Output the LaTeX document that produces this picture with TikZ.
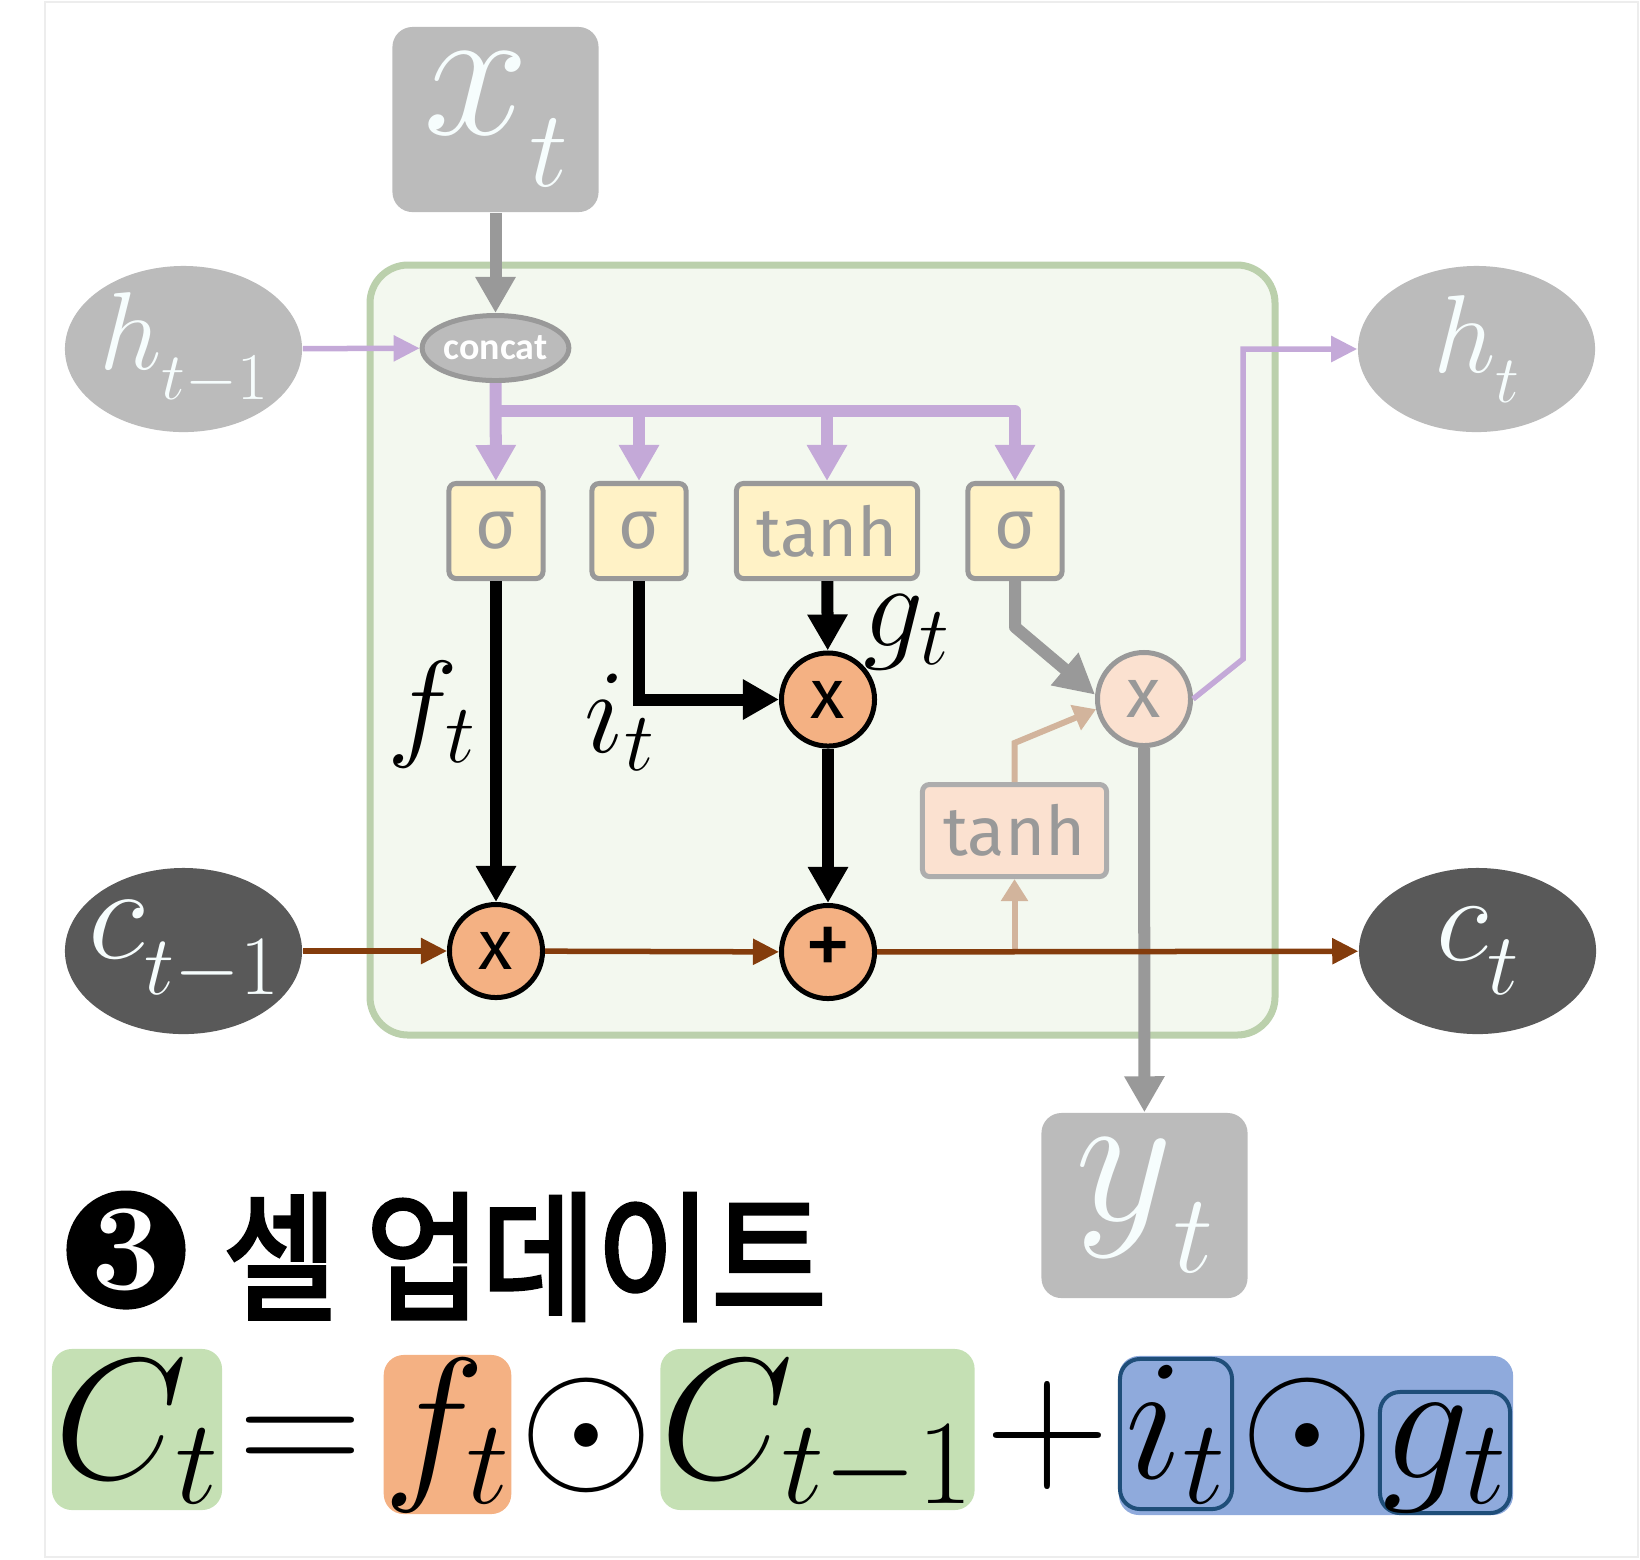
\RequirePackage{fix-cm}
\documentclass[tikz,border=0pt]{standalone}
\usepackage{fontspec}
\usepackage{tikz}
\usetikzlibrary{arrows.meta,shapes.geometric}
\newfontfamily\gatefont{Fira Sans}
\newfontfamily\catfont{Carlito}
\newfontfamily\krfont{Noto Sans CJK KR}[FakeStretch=0.89,FakeBold=2.5]
\definecolor{nodegray}{RGB}{187,187,187}
\definecolor{linegray}{RGB}{153,153,153}
\definecolor{cellgray}{RGB}{89,89,89}
\definecolor{lilac}{RGB}{196,169,216}
\definecolor{rust}{RGB}{132,60,12}
\definecolor{sand}{RGB}{210,180,156}
\definecolor{cellfill}{RGB}{243,248,239}
\definecolor{celledge}{RGB}{187,208,172}
\definecolor{gateyellow}{RGB}{255,242,198}
\definecolor{multorange}{RGB}{244,177,131}
\definecolor{peach}{RGB}{251,225,208}
\definecolor{eqgreen}{RGB}{197,224,180}
\definecolor{eqblue}{RGB}{143,170,220}
\definecolor{eqnavy}{RGB}{31,78,121}
\definecolor{snow}{RGB}{246,253,253}
% symbol with a deep, smaller subscript
\newcommand{\dropsub}[3]{\makebox[0pt]{$#1\lower0.27em\hbox{\fontsize{#3}{#3}\selectfont$#2$}$}}
\tikzset{
  gate/.style={draw=linegray,fill=#1,line width=0.05cm,rounded corners=2pt,
    minimum width=0.94cm,minimum height=0.95cm,inner sep=0pt,text=linegray,
    font=\gatefont\fontsize{19.5}{20}\selectfont},
  gate/.default=gateyellow,
  mult/.style={circle,draw=black,fill=#1,line width=0.05cm,minimum size=0.93cm,
    inner sep=0pt,font=\gatefont\fontsize{20}{20}\selectfont},
  mult/.default=multorange,
  io/.style={rectangle,fill=nodegray,rounded corners=0.2cm,minimum width=2.06cm,
    minimum height=1.85cm,inner sep=0pt,text=snow,font=\fontsize{54}{54}\selectfont},
  blob/.style={ellipse,fill=#1,minimum width=2.37cm,minimum height=1.66cm,
    inner sep=0pt,text=snow},
  blob/.default=nodegray,
  wire/.style={draw=#1,line width=0.12cm,-{Triangle[length=0.36cm,width=0.38cm]}},
  wire/.default=black,
  thin wire/.style={draw=#1,line width=0.055cm,-{Triangle[length=0.26cm,width=0.25cm]}},
  sym/.style={inner sep=0pt,font=\fontsize{34}{34}\selectfont},
  eq/.style={font=\fontsize{49}{49}\selectfont,anchor=base,inner sep=0pt},
  eqbox/.style={eq,fill=#1,rounded corners=0.2cm},
}
\begin{document}
\begin{tikzpicture}[x=0.01cm,y=-0.01cm]
  \useasboundingbox (0,0) rectangle (1640,1559);
  \draw[black!7,line width=0.015cm] (45,2) rectangle (1638,1557);
  % the cell
  \draw[celledge,fill=cellfill,line width=0.07cm,rounded corners=0.38cm] (370,265) rectangle (1275,1035);

  % inputs and outputs
  \node[io] (xt) at (495.5,119.5) {\dropsub{x}{t}{31}};
  \node[io] (yt) at (1144.5,1205.5) {\dropsub{y}{t}{32}};
  \node[blob,font=\fontsize{31.5}{32}\selectfont] (htm) at (183.5,349) {\dropsub{h}{t{-}1}{19}};
  \node[blob,font=\fontsize{31.5}{32}\selectfont] (ht) at (1476.5,349) {\dropsub{h}{t}{19}};
  \node[blob=cellgray,font=\fontsize{38}{38}\selectfont] (ctm) at (183.5,951) {\dropsub{c}{t{-}1}{24}};
  \node[blob=cellgray,font=\fontsize{35}{35}\selectfont] (ct) at (1477.5,951) {\dropsub{c}{t}{25}};
  \node[ellipse,draw=linegray,fill=nodegray,line width=0.05cm,minimum width=1.28cm,
    minimum height=0.65cm,inner sep=0pt,text=white,
    font=\catfont\bfseries\fontsize{10.8}{11}\selectfont] (concat) at (495.5,348) {concat};

  % gates
  \node[gate] (sf) at (496,531) {σ};
  \node[gate] (si) at (639,531) {σ};
  \node[gate,minimum width=1.81cm] (tg) at (827,531) {tanh};
  \node[gate] (so) at (1015,531) {σ};
  \node[gate=peach,draw=linegray!80,minimum width=1.84cm,minimum height=0.92cm] (tc) at (1014.5,830.5) {tanh};

  % pointwise ops
  \node[mult] (fx) at (496,951) {x};
  \node[mult] (ix) at (828,699.5) {x};
  \node[mult,font=\gatefont\fontsize{27}{27}\selectfont] (add) at (828,952) {+};
  \node[mult=peach,draw=linegray,text=linegray] (ox) at (1144,699) {x};

  \node[sym] (flab) at (432,715) {$f_t$};
  \node[sym] (ilab) at (620,722) {$i_t$};
  \node[sym] (glab) at (907,632) {$g_t$};

  % wires
  \draw[wire=linegray] (xt) -- (concat);
  \draw[thin wire=lilac] (htm) -- (concat);
  \coordinate (split) at (495.5,411);
  \draw[wire=lilac] (concat) -- (sf);
  \draw[wire=lilac,line join=round] (split) -| (so);
  \foreach \g in {si,tg} \draw[wire=lilac] (split -| \g) -- (\g);

  \draw[wire] (sf) -- (fx);
  \draw[wire] (si) |- (ix);
  \draw[wire] (tg) -- (ix);
  \draw[wire] (ix) -- (add);
  \draw[wire=linegray,-{Triangle[length=0.4cm,width=0.4cm]},line join=round] (so.south) -- ++(0,46) -- (ox.175);
  \draw[wire=linegray] (ox) -- (yt);
  \draw[sand,line width=0.06cm,-{Triangle[length=0.22cm,width=0.26cm]}] (add -| tc) -- (tc);
  \draw[sand,line width=0.06cm,-{Triangle[length=0.22cm,width=0.26cm]}] (tc.north) -- ++(0,-39) -- (ox.192);
  \draw[thin wire=lilac] (ox.east) -- ++(50,-40) |- (ht);

  % cell state
  \draw[thin wire=rust] (ctm) -- (fx);
  \draw[thin wire=rust] (fx) -- (add);
  \draw[thin wire=rust] (add) -- (ct);

  % title
  \node[circle,fill=black,minimum size=1.19cm,inner sep=0pt,text=white,
    font=\bfseries\fontsize{35}{35}\selectfont] (num) at (126,1250) {3};
  \node[anchor=west,inner sep=0pt,font=\krfont\fontsize{40}{40}\selectfont] (title) at (222,1257) {셀 업데이트};

  % equation
  \node[eqbox=eqgreen,minimum width=1.70cm,text height=1.29cm,text depth=0.32cm] (Ct) at (137,1478) {$C_t$};
  \node[eq] (eqs) at (301,1478) {$=$};
  \node[eqbox=multorange,minimum width=1.21cm,text height=1.23cm,text depth=0.36cm] (ft) at (447.5,1478) {$f_t$};
  \node[eq] (od1) at (587,1478) {$\odot$};
  \node[eqbox=eqgreen,minimum width=3.01cm,text height=1.29cm,text depth=0.32cm] (Ctm) at (817.5,1478) {$C_{t-1}$};
  \node[eq] (pls) at (1048,1478) {$+$};
  \node[eqbox=eqblue,minimum width=3.94cm,text height=1.22cm,text depth=0.37cm] (ig) at (1316,1478) {};
  \node[eqbox=eqblue,draw=eqnavy,line width=0.04cm,minimum width=1.12cm,text height=1.19cm,text depth=0.31cm] (it) at (1176,1478) {$i_t$};
  \node[eq] (od2) at (1307.5,1478) {$\odot$};
  \node[eqbox=eqblue,draw=eqnavy,line width=0.04cm,minimum width=1.30cm,text height=0.86cm,text depth=0.35cm] (gt) at (1445,1478) {$g_t$};
\end{tikzpicture}
\end{document}
